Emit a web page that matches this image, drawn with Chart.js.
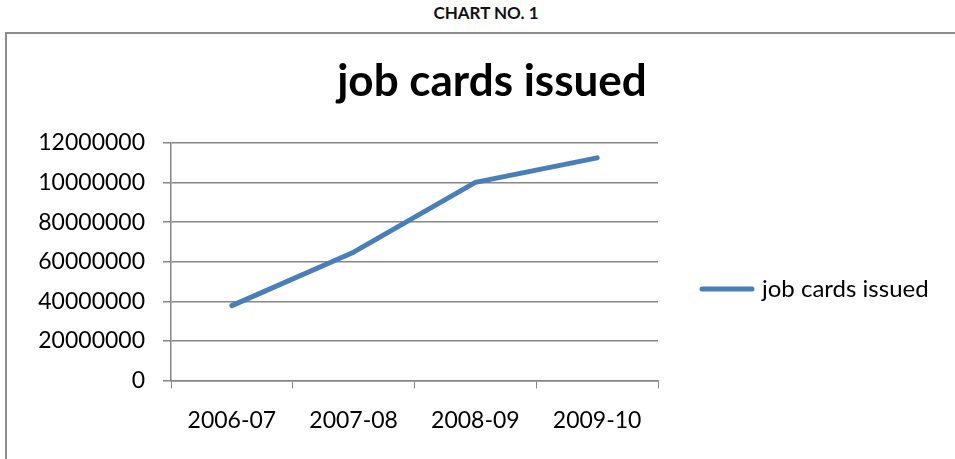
<!DOCTYPE html>
<html lang="en">
<head>
  <meta charset="UTF-8">
  <title>job cards issued</title>
  <script src="https://cdn.jsdelivr.net/npm/chart.js"></script>
  <style>
    body { margin: 0; background: #fff; font-family: Lato, sans-serif; }
    .caption { position: absolute; left: 0; top: 2px; width: 972px; text-align: center; font-weight: bold; font-size: 17px; color: #111; }
    .frame { position: absolute; left: 5px; top: 32px; width: 960px; height: 440px; border-left: 2px solid #8c8c8c; border-top: 2px solid #8c8c8c; }
    .frame canvas { position: absolute; left: 0; top: 0; }
  </style>
</head>
<body>
  <div class="caption">CHART NO. 1</div>
  <div class="frame">
    <canvas id="jobChart" width="948" height="425"></canvas>
  </div>

  <script>
    // chart data
    const years = ["2006-07", "2007-08", "2008-09", "2009-10"];
    const jobCards = [37800000, 64800000, 100100000, 112500000];
    const yTickLabels = ["0", "20000000", "40000000", "60000000", "80000000", "10000000", "12000000"];
    const seriesName = "job cards issued";
    const lineColor = "#4a7ebb";

    // title and legend drawn by hand so they sit where the original ones do
    const titleAndLegend = {
      id: "titleAndLegend",
      afterDraw(chart) {
        const ctx = chart.ctx;
        const ds = chart.data.datasets[0];
        ctx.save();
        ctx.fillStyle = "#000";
        ctx.font = "bold 44px Lato";
        ctx.textAlign = "center";
        ctx.textBaseline = "middle";
        ctx.fillText(ds.label, 485, 48);

        const y = 255;
        ctx.strokeStyle = ds.borderColor;
        ctx.lineWidth = 5;
        ctx.lineCap = "round";
        ctx.beginPath();
        ctx.moveTo(695, y);
        ctx.lineTo(745, y);
        ctx.stroke();
        ctx.font = "24px Lato";
        ctx.textAlign = "left";
        ctx.fillText(ds.label, 755, y);
        ctx.restore();
      }
    };

    const ctx = document.getElementById("jobChart").getContext("2d");
    new Chart(ctx, {
      type: "line",
      data: {
        labels: years,
        datasets: [{
          label: seriesName,
          data: jobCards,
          borderColor: lineColor,
          backgroundColor: lineColor,
          borderWidth: 5,
          borderCapStyle: "round",
          borderJoinStyle: "round",
          pointRadius: 0,
          tension: 0,
          fill: false
        }]
      },
      options: {
        responsive: false,
        animation: false,
        layout: { padding: { left: 0, right: 297, top: 109, bottom: 7 } },
        plugins: {
          legend: { display: false },
          tooltip: { enabled: false },
          title: { display: false }
        },
        scales: {
          x: {
            offset: true,
            grid: { offset: true, drawOnChartArea: false, color: "#868686", tickLength: 8 },
            border: { color: "#868686", width: 1.5 },
            ticks: { color: "#000", font: { family: "Lato", size: 23 }, padding: 18 }
          },
          y: {
            min: 0,
            max: 120000000,
            afterFit(scale) { scale.width = 164; },
            grid: { color: "#868686", lineWidth: 1.5, tickLength: 8 },
            border: { color: "#868686", width: 1.5 },
            ticks: {
              stepSize: 20000000,
              color: "#000",
              font: { family: "Lato", size: 23 },
              padding: 18,
              callback: (v, i) => yTickLabels[i]
            }
          }
        }
      },
      plugins: [titleAndLegend]
    });
  </script>
</body>
</html>
